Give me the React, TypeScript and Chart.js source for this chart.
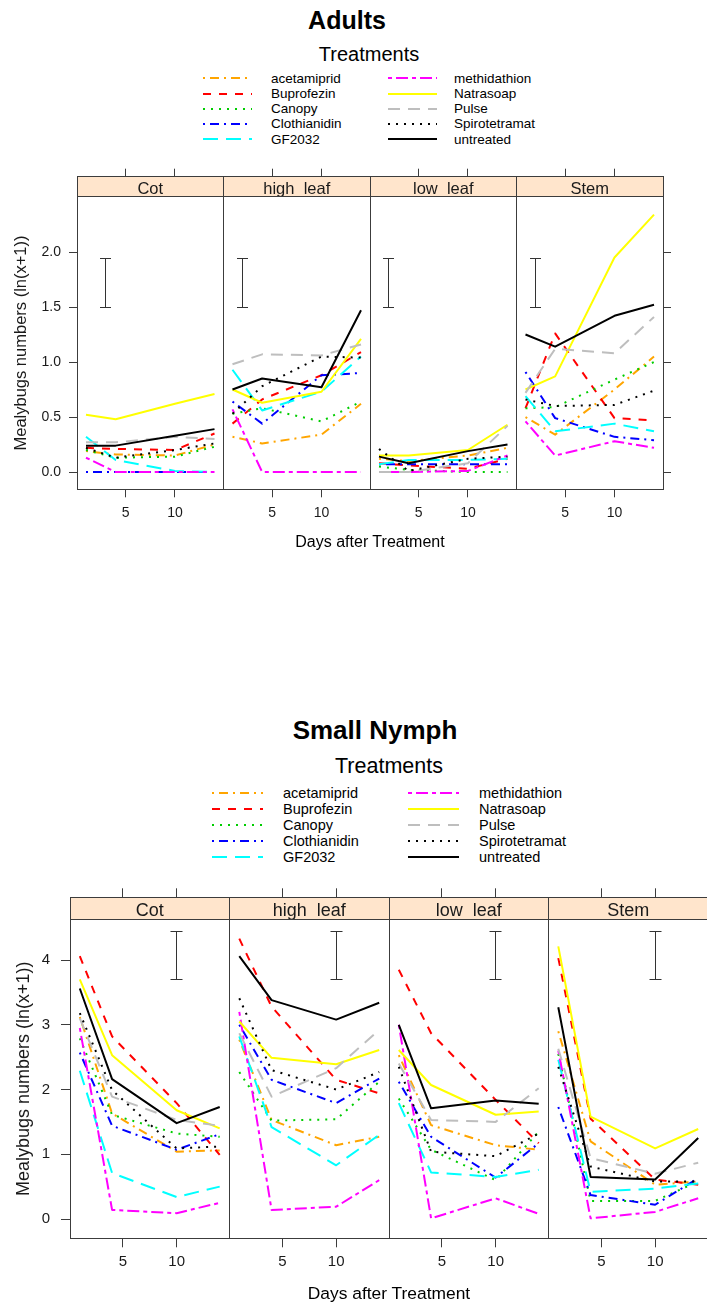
import React, { useEffect, useRef } from "react";
import { Chart, registerables } from "chart.js";

Chart.register(...registerables);

const FONT = '"Liberation Sans", Arial, Helvetica, sans-serif';
Chart.defaults.font.family = FONT;

// ---------------- data ----------------
const days = [1, 4, 10, 14];
const panelNames = ["Cot", "high_leaf", "low_leaf", "Stem"];
const treatments = [
  "acetamiprid",
  "Buprofezin",
  "Canopy",
  "Clothianidin",
  "GF2032",
  "methidathion",
  "Natrasoap",
  "Pulse",
  "Spirotetramat",
  "untreated",
];
const xTickValues = [5, 10];
const adultYTickValues = [0, 0.5, 1, 1.5, 2];
const nymphYTickValues = [0, 1, 2, 3, 4];
const yAxisTitle = "Mealybugs numbers (ln(x+1))";
const xAxisTitle = "Days after Treatment";

// Adults: rows follow the treatments order, columns follow days
const adultsCot = [
  [0.19, 0.16, 0.15, 0.25],
  [0.22, 0.21, 0.2, 0.35],
  [0.2, 0.13, 0.14, 0.23],
  [0.0, 0.0, 0.0, 0.0],
  [0.32, 0.11, 0.01, 0.0],
  [0.13, 0.0, 0.0, 0.0],
  [0.52, 0.48, 0.62, 0.71],
  [0.27, 0.27, 0.32, 0.3],
  [0.22, 0.13, 0.2, 0.26],
  [0.24, 0.24, 0.33, 0.39],
];
const adultsHighLeaf = [
  [0.32, 0.26, 0.34, 0.62],
  [0.44, 0.66, 0.88, 1.09],
  [0.53, 0.58, 0.46, 0.64],
  [0.64, 0.44, 0.88, 0.9],
  [0.93, 0.56, 0.73, 1.05],
  [0.57, 0.0, 0.0, 0.0],
  [0.75, 0.63, 0.73, 1.21],
  [0.98, 1.07, 1.06, 1.16],
  [0.53, 0.78, 1.05, 1.04],
  [0.75, 0.85, 0.77, 1.47],
];
const adultsLowLeaf = [
  [0.12, 0.1, 0.15, 0.22],
  [0.08, 0.06, 0.03, 0.12],
  [0.05, 0.02, 0.0, 0.0],
  [0.07, 0.07, 0.07, 0.07],
  [0.07, 0.11, 0.11, 0.12],
  [0.0, 0.0, 0.01, 0.15],
  [0.15, 0.15, 0.2, 0.43],
  [0.0, 0.0, 0.08, 0.42],
  [0.21, 0.01, 0.12, 0.14],
  [0.14, 0.08, 0.19, 0.25],
];
const adultsStem = [
  [0.5, 0.34, 0.75, 1.05],
  [0.58, 1.26, 0.49, 0.47],
  [0.58, 0.59, 0.84, 1.0],
  [0.91, 0.49, 0.32, 0.29],
  [0.69, 0.37, 0.44, 0.37],
  [0.46, 0.15, 0.28, 0.22],
  [0.75, 0.87, 1.95, 2.34],
  [0.72, 1.12, 1.08, 1.41],
  [0.66, 0.6, 0.61, 0.74],
  [1.25, 1.14, 1.42, 1.52],
];

// Small nymph
const nymphCot = [
  [3.12, 1.63, 1.04, 1.06],
  [4.06, 2.82, 1.79, 0.99],
  [2.79, 1.61, 1.32, 1.27],
  [2.57, 1.44, 1.07, 1.31],
  [2.29, 0.71, 0.34, 0.5],
  [2.95, 0.14, 0.09, 0.25],
  [3.7, 2.53, 1.68, 1.4],
  [3.1, 1.89, 1.53, 1.44],
  [3.18, 1.99, 1.09, 1.12],
  [3.56, 2.16, 1.48, 1.73],
];
const nymphHighLeaf = [
  [2.77, 1.53, 1.14, 1.27],
  [4.33, 3.28, 2.15, 1.94],
  [2.27, 1.52, 1.54, 2.12],
  [3.0, 2.15, 1.79, 2.17],
  [2.82, 1.42, 0.83, 1.3],
  [3.2, 0.14, 0.19, 0.6],
  [3.05, 2.49, 2.39, 2.61],
  [2.87, 1.89, 2.33, 2.92],
  [3.41, 2.3, 2.0, 2.27],
  [4.06, 3.38, 3.08, 3.34],
];
const nymphLowLeaf = [
  [2.53, 1.45, 1.14, 1.07],
  [3.85, 2.87, 1.84, 1.17],
  [1.86, 1.07, 0.6, 1.35],
  [2.12, 1.27, 0.64, 1.17],
  [1.79, 0.72, 0.65, 0.76],
  [3.0, 0.01, 0.32, 0.08],
  [2.61, 2.07, 1.61, 1.66],
  [2.4, 1.53, 1.5, 2.02],
  [2.35, 1.04, 0.97, 1.32],
  [3.0, 1.71, 1.83, 1.78],
];
const nymphStem = [
  [2.9, 1.2, 0.53, 0.58],
  [4.03, 1.55, 0.61, 0.53],
  [2.55, 0.28, 0.28, 0.58],
  [1.73, 0.37, 0.22, 0.63],
  [2.46, 0.42, 0.47, 0.55],
  [2.6, 0.01, 0.11, 0.32],
  [4.21, 1.58, 1.09, 1.39],
  [2.63, 0.94, 0.7, 0.87],
  [2.35, 0.81, 0.58, 0.58],
  [3.27, 0.65, 0.61, 1.25],
];

// error bars: x position (day) per panel and [low, high]
const adultErrX = [3, 2, 2, 2];
const adultErrY = [1.5, 1.94];
const nymphErrX = [10, 10, 10, 10];
const nymphErrY = [3.7, 4.44];

// ---------------- styles ----------------
const lineColors = [
  "#FFA500",
  "#FF0000",
  "#00CD00",
  "#0000FF",
  "#00FFFF",
  "#FF00FF",
  "#FFFF00",
  "#BEBEBE",
  "#000000",
  "#000000",
];
const lineDashes: number[][] = [
  [2, 5, 9, 5],
  [8, 8],
  [2, 6],
  [2, 5, 9, 5],
  [15, 8],
  [4, 4, 12, 4],
  [],
  [12, 8],
  [2, 6],
  [],
];
const AXIS_COLOR = "#3c3c3c";
const TEXT_COLOR = "#1a1a1a";

const adultSpec = {
  panels: [adultsCot, adultsHighLeaf, adultsLowLeaf, adultsStem],
  yTicks: adultYTickValues,
  yFmt: (v: number) => v.toFixed(1),
  yMin: -0.157,
  yMax: 2.503,
  xMin: 0.09,
  xMax: 14.91,
  errX: adultErrX,
  errY: adultErrY,
  canvasTop: 150,
  canvasW: 707,
  canvasH: 410,
  left: 77,
  right: 663,
  chartTop: 196.7,
  chartBottom: 489.3,
  stripH: 20,
  xTickLen: 8,
  xTickPad: 7,
  yTickLen: 8,
  yTickPad: 8,
  tickFont: 14,
  stripFont: 16.5,
  stripBaseOff: 3,
  yTitleFont: 16.5,
  yTitlePad: 12,
  errCap: 5.5,
  lineWidth: 2,
  title: { text: "Adults", cx: 347, cy: 20, size: 25 },
  keyTitle: { text: "Treatments", cx: 369, cy: 54, size: 20 },
  key: { lineX: [203, 388], lineLen: 49, textX: [271, 454], y0: 78.3, step: 15.2, size: 13.5 },
  xTitle: { text: xAxisTitle, cx: 370, cy: 542, size: 16 },
};

const nymphSpec = {
  panels: [nymphCot, nymphHighLeaf, nymphLowLeaf, nymphStem],
  yTicks: nymphYTickValues,
  yFmt: (v: number) => String(v),
  yMin: -0.298,
  yMax: 4.629,
  xMin: 0.09,
  xMax: 14.91,
  errX: nymphErrX,
  errY: nymphErrY,
  canvasTop: 870,
  canvasW: 740,
  canvasH: 437,
  left: 70,
  right: 708,
  chartTop: 919.3,
  chartBottom: 1238.3,
  stripH: 22,
  xTickLen: 9,
  xTickPad: 6,
  yTickLen: 9,
  yTickPad: 11,
  tickFont: 15,
  stripFont: 18,
  stripBaseOff: 3.3,
  yTitleFont: 18,
  yTitlePad: 13,
  errCap: 6,
  lineWidth: 2,
  title: { text: "Small Nymph", cx: 375, cy: 730, size: 26 },
  keyTitle: { text: "Treatments", cx: 389, cy: 767, size: 21.5 },
  key: { lineX: [212, 408], lineLen: 51, textX: [283, 479], y0: 792.7, step: 16, size: 14.5 },
  xTitle: { text: xAxisTitle, cx: 389, cy: 1293, size: 17.4 },
};

type Spec = typeof adultSpec;

function LatticeFigure({ spec }: { spec: Spec }) {
  const ref = useRef<HTMLCanvasElement | null>(null);

  useEffect(() => {
    const s = spec;
    const canvas = ref.current;
    if (!canvas) return;

    const datasets: any[] = [];
    s.panels.forEach((rows, p) => {
      rows.forEach((vals, i) => {
        datasets.push({
          label: `${treatments[i]} (${panelNames[p]})`,
          data: days.map((d, j) => ({ x: d, y: vals[j] })),
          xAxisID: "x" + p,
          yAxisID: "y",
          borderColor: lineColors[i],
          backgroundColor: lineColors[i],
          borderDash: lineDashes[i],
          borderWidth: s.lineWidth,
          borderCapStyle: "butt",
          borderJoinStyle: "round",
          pointRadius: 0,
          pointHoverRadius: 0,
          tension: 0,
          fill: false,
          order: treatments.length - i,
        });
      });
    });

    const setXTicks = (sc: any) => {
      sc.ticks = xTickValues.map((v) => ({ value: v }));
    };
    const setYTicks = (sc: any) => {
      sc.ticks = s.yTicks.map((v) => ({ value: v }));
    };

    const scales: any = {};
    panelNames.forEach((_, p) => {
      scales["x" + p] = {
        type: "linear",
        axis: "x",
        position: "bottom",
        stack: "bottomPanels",
        stackWeight: 1,
        min: s.xMin,
        max: s.xMax,
        afterBuildTicks: setXTicks,
        afterFit: (sc: any) => {
          sc.height = s.canvasTop + s.canvasH - s.chartBottom;
        },
        grid: {
          display: true,
          drawOnChartArea: false,
          drawTicks: true,
          tickLength: s.xTickLen,
          color: AXIS_COLOR,
          lineWidth: 1,
        },
        border: { display: false },
        ticks: {
          display: true,
          autoSkip: false,
          maxRotation: 0,
          minRotation: 0,
          padding: s.xTickPad,
          color: TEXT_COLOR,
          font: { family: FONT, size: s.tickFont },
          callback: (v: any) => String(v),
        },
      };
      scales["t" + p] = {
        type: "linear",
        axis: "x",
        position: "top",
        stack: "topPanels",
        stackWeight: 1,
        min: s.xMin,
        max: s.xMax,
        afterBuildTicks: setXTicks,
        afterFit: (sc: any) => {
          sc.height = s.chartTop - s.canvasTop;
        },
        grid: {
          display: true,
          drawOnChartArea: false,
          drawTicks: true,
          tickLength: s.stripH + s.xTickLen,
          color: AXIS_COLOR,
          lineWidth: 1,
        },
        border: { display: false },
        ticks: { display: false },
      };
    });
    scales.y = {
      type: "linear",
      axis: "y",
      position: "left",
      min: s.yMin,
      max: s.yMax,
      afterBuildTicks: setYTicks,
      afterFit: (sc: any) => {
        sc.width = s.left;
      },
      grid: {
        display: true,
        drawOnChartArea: false,
        drawTicks: true,
        tickLength: s.yTickLen,
        color: AXIS_COLOR,
        lineWidth: 1,
      },
      border: { display: false },
      ticks: {
        padding: s.yTickPad,
        color: TEXT_COLOR,
        font: { family: FONT, size: s.tickFont },
        callback: (v: any) => s.yFmt(Number(v)),
      },
      title: {
        display: true,
        text: yAxisTitle,
        color: TEXT_COLOR,
        font: { family: FONT, size: s.yTitleFont },
        padding: { top: s.yTitlePad, bottom: 0 },
      },
    };
    scales.yr = {
      type: "linear",
      axis: "y",
      position: "right",
      min: s.yMin,
      max: s.yMax,
      afterBuildTicks: setYTicks,
      afterFit: (sc: any) => {
        sc.width = s.canvasW - s.right;
      },
      grid: {
        display: true,
        drawOnChartArea: false,
        drawTicks: true,
        tickLength: s.yTickLen,
        color: AXIS_COLOR,
        lineWidth: 1,
      },
      border: { display: false },
      ticks: { display: false },
    };

    const crisp = (v: number) => Math.floor(v) + 0.5;

    const latticePlugin = {
      id: "latticePanels",
      afterDraw(chart: any) {
        const { ctx, chartArea } = chart;
        const top = chartArea.top;
        const bottom = chartArea.bottom;
        const yS = chart.scales.y;
        ctx.save();
        // strips
        panelNames.forEach((name, p) => {
          const xs = chart.scales["x" + p];
          const l = xs.left;
          const r = xs.right;
          ctx.fillStyle = "#FFE5CC";
          ctx.fillRect(l, top - s.stripH, r - l, s.stripH);
          ctx.save();
          ctx.beginPath();
          ctx.rect(l, top - s.stripH, r - l, Math.floor(top) - (top - s.stripH));
          ctx.clip();
          ctx.fillStyle = TEXT_COLOR;
          ctx.font = `${s.stripFont}px ${FONT}`;
          ctx.textAlign = "center";
          ctx.textBaseline = "alphabetic";
          ctx.fillText(name, (l + r) / 2, top - s.stripBaseOff);
          ctx.restore();
        });
        // borders
        ctx.strokeStyle = AXIS_COLOR;
        ctx.lineWidth = 1;
        panelNames.forEach((_, p) => {
          const xs = chart.scales["x" + p];
          const l = crisp(xs.left);
          const r = crisp(xs.right);
          const st = crisp(top - s.stripH);
          const t = crisp(top);
          const b = crisp(bottom);
          ctx.strokeRect(l, st, r - l, b - st);
          ctx.beginPath();
          ctx.moveTo(l, t);
          ctx.lineTo(r, t);
          ctx.stroke();
        });
        // error bars
        ctx.strokeStyle = "#333333";
        panelNames.forEach((_, p) => {
          const xs = chart.scales["x" + p];
          const ex = crisp(xs.getPixelForValue(s.errX[p]));
          const y1 = crisp(yS.getPixelForValue(s.errY[0]));
          const y2 = crisp(yS.getPixelForValue(s.errY[1]));
          ctx.beginPath();
          ctx.moveTo(ex, y1);
          ctx.lineTo(ex, y2);
          ctx.moveTo(ex - s.errCap, y1);
          ctx.lineTo(ex + s.errCap, y1);
          ctx.moveTo(ex - s.errCap, y2);
          ctx.lineTo(ex + s.errCap, y2);
          ctx.stroke();
        });
        ctx.restore();
      },
    };

    const chart = new Chart(canvas, {
      type: "line",
      data: { datasets },
      options: {
        animation: false,
        responsive: false,
        maintainAspectRatio: false,
        devicePixelRatio: 1,
        layout: { padding: 0 },
        events: [],
        plugins: {
          legend: { display: false },
          tooltip: { enabled: false },
          title: { display: false },
        },
        scales,
      } as any,
      plugins: [latticePlugin as any],
    });
    return () => chart.destroy();
  }, [spec]);

  return (
    <canvas
      ref={ref}
      width={spec.canvasW}
      height={spec.canvasH}
      style={{
        position: "absolute",
        left: 0,
        top: spec.canvasTop,
        width: spec.canvasW,
        height: spec.canvasH,
      }}
    />
  );
}

function CenteredText({
  text,
  cx,
  cy,
  size,
  bold,
}: {
  text: string;
  cx: number;
  cy: number;
  size: number;
  bold?: boolean;
}) {
  return (
    <div
      style={{
        position: "absolute",
        left: cx - 200,
        width: 400,
        top: cy - 0.4885 * size,
        fontSize: size,
        lineHeight: `${size}px`,
        fontWeight: bold ? 700 : 400,
        textAlign: "center",
        whiteSpace: "nowrap",
        color: "#000",
      }}
    >
      {text}
    </div>
  );
}

function FigureTexts({ spec }: { spec: Spec }) {
  const k = spec.key;
  return (
    <>
      <CenteredText {...spec.title} bold />
      <CenteredText {...spec.keyTitle} />
      {treatments.map((name, i) => {
        const col = Math.floor(i / 5);
        const row = i % 5;
        const y = k.y0 + row * k.step;
        return (
          <React.Fragment key={name}>
            <svg
              style={{ position: "absolute", left: k.lineX[col], top: y - 4 }}
              width={k.lineLen}
              height={8}
            >
              <line
                x1={0}
                y1={4}
                x2={k.lineLen}
                y2={4}
                stroke={lineColors[i]}
                strokeWidth={2}
                strokeDasharray={lineDashes[i].length ? lineDashes[i].join(" ") : undefined}
              />
            </svg>
            <div
              style={{
                position: "absolute",
                left: k.textX[col],
                top: y - 0.4885 * k.size,
                fontSize: k.size,
                lineHeight: `${k.size}px`,
                whiteSpace: "nowrap",
                color: "#000",
              }}
            >
              {name}
            </div>
          </React.Fragment>
        );
      })}
      <CenteredText {...spec.xTitle} />
    </>
  );
}

export default function App() {
  return (
    <div
      style={{
        position: "absolute",
        left: 0,
        top: 0,
        width: 707,
        height: 1307,
        overflow: "hidden",
        background: "#ffffff",
        fontFamily: FONT,
      }}
    >
      <LatticeFigure spec={adultSpec} />
      <LatticeFigure spec={nymphSpec as Spec} />
      <FigureTexts spec={adultSpec} />
      <FigureTexts spec={nymphSpec as Spec} />
    </div>
  );
}
